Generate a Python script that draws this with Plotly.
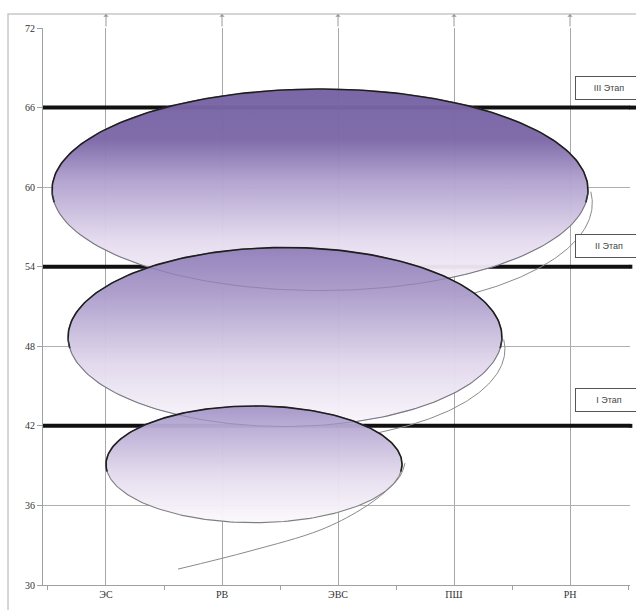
import numpy as np
import plotly.graph_objects as go

# ---- data ----
categories = ["ЭС", "РВ", "ЭВС", "ПШ", "РН"]
y_ticks = [30, 36, 42, 48, 54, 60, 66, 72]

stage_names = ["I Этап", "II Этап", "III Этап"]
stage_levels = [42, 54, 66]
stage_label_y = [43.95, 55.6, 67.5]

# ellipses (III, II, I) : centre x (category units), centre y, half-width, half-height
ell_names = ["III", "II", "I"]
ell_cx = [2.845, 2.543, 2.276]
ell_cy = [59.8, 48.7, 39.1]
ell_rx = [2.31, 1.87, 1.276]
ell_ry = [7.6, 6.75, 4.4]
# vertical gradient stops (bottom -> top)
ell_scales = [
    [[0, "rgba(250,245,251,0.96)"], [0.25, "rgba(228,218,238,0.96)"], [0.55, "rgba(175,160,206,0.96)"],
     [0.75, "rgba(124,104,167,0.97)"], [1, "rgba(118,98,163,0.97)"]],
    [[0, "rgba(251,247,252,0.96)"], [0.35, "rgba(225,216,236,0.96)"], [0.75, "rgba(170,155,202,0.96)"],
     [1, "rgba(145,128,186,0.96)"]],
    [[0, "rgba(252,249,253,0.96)"], [0.4, "rgba(228,220,238,0.96)"], [1, "rgba(165,150,200,0.96)"]],
]

# shadow arcs behind ellipses III and II
sh_cx = [2.862, 2.560]
sh_cy = [58.8, 47.79]
sh_rx = [2.33, 1.879]
sh_ry = [8.22, 6.94]
sh_t0 = [6, 6]      # degrees
sh_t1 = [-60, -66]

# thin spiral tail (shadow of ellipse I)
tail_x = [1.621, 2.241, 2.845, 3.190, 3.405, 3.535, 3.578]
tail_y = [31.2, 32.56, 34.14, 35.65, 37.01, 38.21, 39.19]

fig = go.Figure()

# thick stage lines (under the ellipses)
for lvl in stage_levels:
    fig.add_trace(go.Scatter(x=[0.457, 5.517], y=[lvl, lvl], mode="lines",
                             line=dict(color="#111111", width=4), hoverinfo="skip", showlegend=False))

# shadow curves (under the ellipses)
for cx, cy, rx, ry, t0, t1 in zip(sh_cx, sh_cy, sh_rx, sh_ry, sh_t0, sh_t1):
    t = np.radians(np.linspace(t0, t1, 80))
    fig.add_trace(go.Scatter(x=cx + rx * np.cos(t), y=cy + ry * np.sin(t), mode="lines",
                             line=dict(color="#8a8a8a", width=1), hoverinfo="skip", showlegend=False))
fig.add_trace(go.Scatter(x=tail_x, y=tail_y, mode="lines", line=dict(color="#8a8a8a", width=1, shape="spline"),
                         hoverinfo="skip", showlegend=False))

# ellipses
for i in range(3):
    cx, cy, rx, ry = ell_cx[i], ell_cy[i], ell_rx[i], ell_ry[i]
    t = np.linspace(0, 2 * np.pi, 240)
    fig.add_trace(go.Scatter(
        x=cx + rx * np.cos(t), y=cy + ry * np.sin(t), mode="lines", fill="toself",
        fillgradient=dict(type="vertical", start=cy - ry, stop=cy + ry, colorscale=ell_scales[i]),
        line=dict(color="#808080", width=1.1), hoverinfo="skip", showlegend=False, name=ell_names[i]))
    if i > 0:
        # faint see-through lower edge of the previous (larger) ellipse
        pcx, pcy, prx, pry = ell_cx[i - 1], ell_cy[i - 1], ell_rx[i - 1], ell_ry[i - 1]
        tl = np.linspace(np.pi, 2 * np.pi, 160)
        fig.add_trace(go.Scatter(
            x=pcx + prx * np.cos(tl), y=pcy + pry * np.sin(tl), mode="lines",
            line=dict(color="rgba(110,100,140,0.35)", width=1), hoverinfo="skip", showlegend=False))
    tu = np.linspace(-0.04 * np.pi, 1.04 * np.pi, 160)
    fig.add_trace(go.Scatter(
        x=cx + rx * np.cos(tu), y=cy + ry * np.sin(tu), mode="lines",
        line=dict(color="#1e1e1e", width=1.6), hoverinfo="skip", showlegend=False))

shapes = []
# short continuations of stage lines beyond the plot area
for lvl, x1 in zip(stage_levels, [1.004, 1.004, 1.02]):
    shapes.append(dict(type="line", xref="paper", yref="y", x0=0.999, x1=x1, y0=lvl, y1=lvl,
                       line=dict(color="#111111", width=4), layer="above"))
# outer frame
shapes.append(dict(type="rect", xref="paper", yref="paper", x0=-0.0596, x1=1.2, y0=-0.2, y1=1.0251,
                   line=dict(color="#c8c8c8", width=1.5), layer="below"))

annotations = []
for name, ly in zip(stage_names, stage_label_y):
    annotations.append(dict(x=0.906, xref="paper", y=ly, yref="y", xanchor="left", yanchor="middle",
                            text=name, showarrow=False, font=dict(family="Liberation Sans", size=9, color="#444"),
                            bgcolor="white", bordercolor="#555", borderwidth=1, borderpad=2,
                            width=62, height=18, align="center"))
# arrows on top of the category gridlines
for k in range(1, len(categories) + 1):
    annotations.append(dict(x=k, xref="x", y=1.0251, yref="paper", ax=0, ay=14, text="",
                            showarrow=True, arrowhead=1, arrowsize=0.9, arrowwidth=1, arrowcolor="#9a9a9a"))

fig.update_layout(
    width=636, height=610,
    margin=dict(l=43, r=6, t=28, b=25),
    paper_bgcolor="white", plot_bgcolor="white",
    shapes=shapes, annotations=annotations,
    showlegend=False,
    xaxis=dict(range=[0.457, 5.517], tickvals=list(range(1, len(categories) + 1)), ticktext=categories,
               showgrid=True, gridcolor="#a8a8a8", gridwidth=1, zeroline=False,
               showline=True, linecolor="#a0a0a0", linewidth=1, ticks="",
               minor=dict(tick0=0.5, dtick=1, ticks="outside", ticklen=4, tickcolor="#a0a0a0", showgrid=False),
               tickfont=dict(family="Liberation Serif", size=10, color="#333"), fixedrange=True),
    yaxis=dict(range=[30, 72], tickvals=y_ticks, showgrid=True, gridcolor="#b0b0b0", gridwidth=1,
               zeroline=False, showline=True, linecolor="#a0a0a0", linewidth=1,
               ticks="outside", ticklen=5, tickcolor="#a0a0a0",
               tickfont=dict(family="Liberation Serif", size=10, color="#333"), fixedrange=True),
)

fig.write_html("out.html", post_script="document.body.style.margin='0';document.body.style.padding='0';",
               config={"displayModeBar": False})
